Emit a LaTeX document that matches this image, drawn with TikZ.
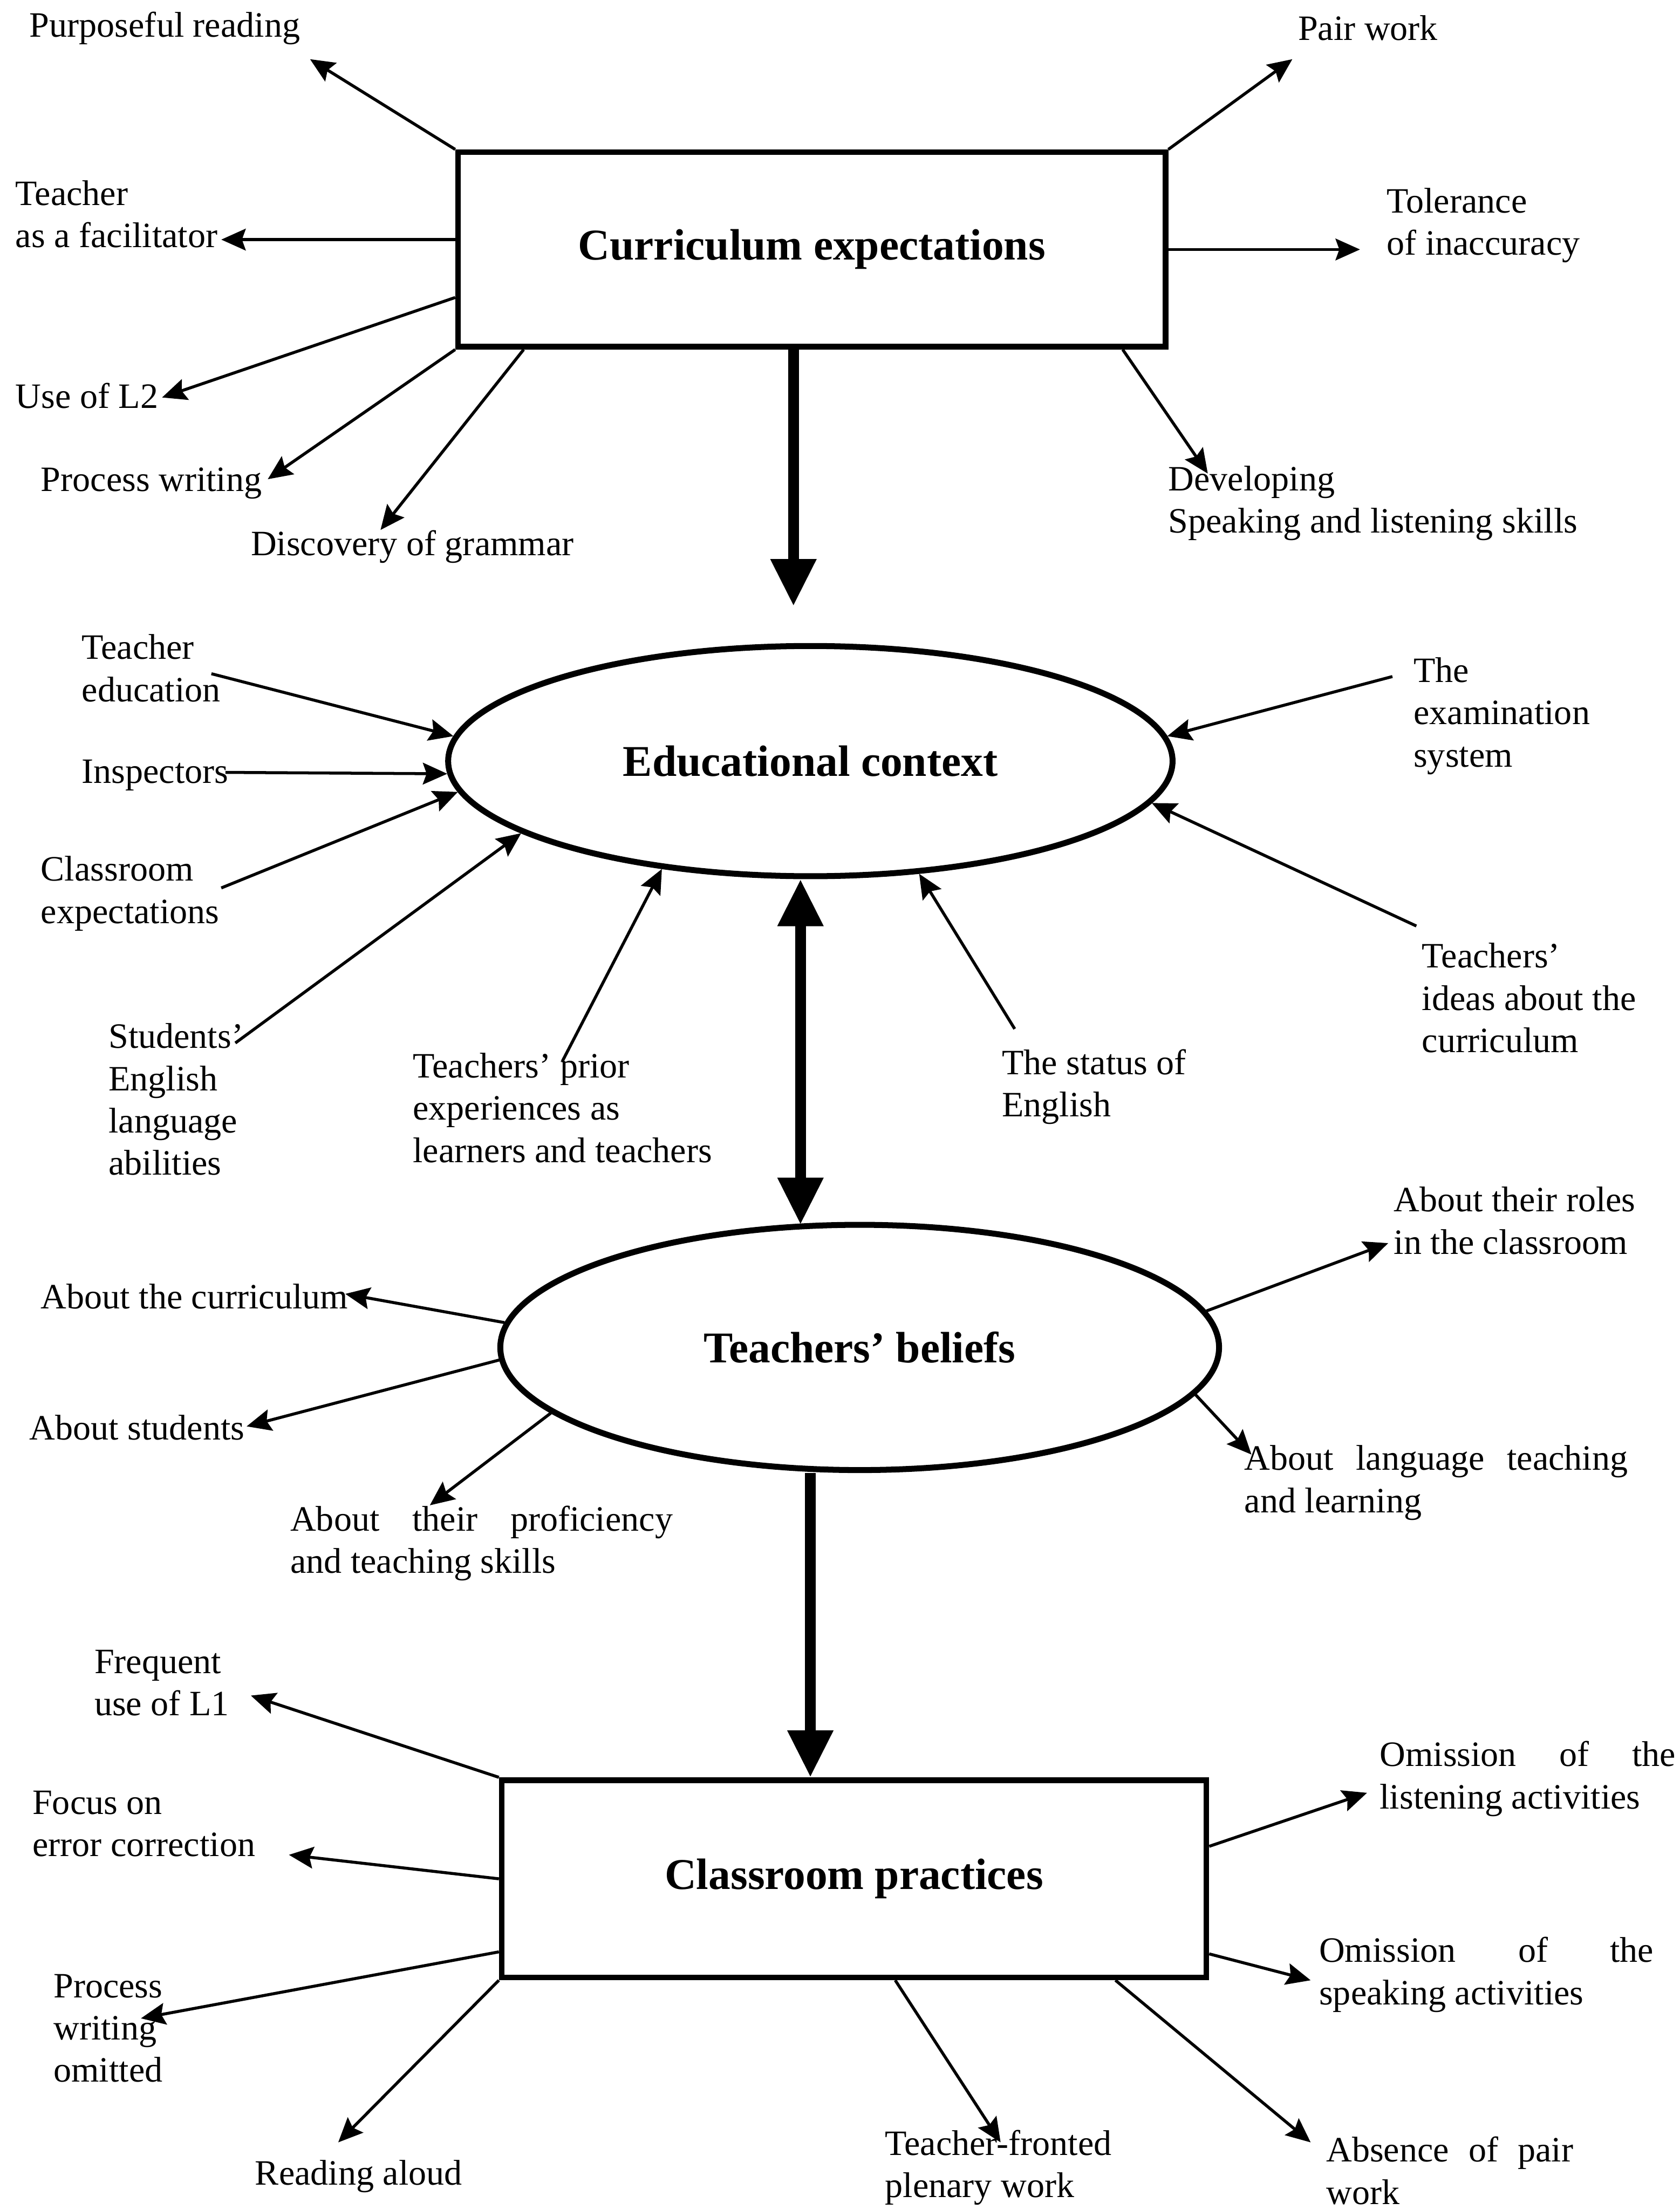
\documentclass[tikz,border=0pt]{standalone}
\usepackage{fontspec}
\setmainfont{Liberation Serif}
\usetikzlibrary{shapes.geometric,arrows.meta,calc}

\begin{document}
\begin{tikzpicture}[x=0.015cm,y=-0.015cm,->,>={Stealth[length=2.6mm,width=2.3mm,inset=0.4mm]},line width=0.9pt,
                main box/.style={rectangle,draw,line width=1.7pt,font=\fontsize{13.3}{16}\selectfont\bfseries},
                main oval/.style={ellipse,draw,line width=1.8pt,inner sep=0pt,font=\fontsize{13.3}{16}\selectfont\bfseries},
                side note/.style={anchor=west,align=left,inner sep=0pt,font=\fontsize{10.8}{12.8}\selectfont},
                wide note/.style={side note,align=justify,text width=#1},
                big arrow/.style={line width=3.2pt,-{Triangle[length=5mm,width=4.6mm]}},
                big both/.style={line width=3.2pt,{Triangle[length=5mm,width=4.6mm]}-{Triangle[length=5mm,width=4.6mm]}}]
                \useasboundingbox (0,0) rectangle (1192,1568);

                % the four main blocks
                \node[main box, minimum width=7.53cm, minimum height=2.07cm] (ce) at (576,177) {Curriculum expectations};
                \node[main oval, minimum width=7.71cm, minimum height=2.45cm] (ec) at (575,540) {Educational context};
                \node[main oval, minimum width=7.65cm, minimum height=2.61cm] (tb) at (610,956) {Teachers' beliefs};
                \node[main box, minimum width=7.5cm, minimum height=2.1cm] (cp) at (606,1333) {Classroom practices};

                % curriculum expectations
                \node[side note] (pr) at (20,20) {Purposeful reading};
                \node[side note] (tf) at (10,152) {Teacher\\as a facilitator};
                \node[side note] (l2) at (10,281) {Use of L2};
                \node[side note] (pw) at (28,343) {Process writing};
                \node[side note] (dg) at (177,388) {Discovery of grammar};
                \node[side note] (pair) at (920,20) {Pair work};
                \node[side note] (ti) at (983,160) {Tolerance\\of inaccuracy};
                \node[side note] (dev) at (828,357) {Developing\\Speaking and listening skills};
                \coordinate (pr-tip) at (220,42);
                \coordinate (tf-tip) at (157,170);
                \coordinate (l2-tip) at (115,282);
                \coordinate (pw-tip) at (190,340);
                \coordinate (dg-tip) at (270,376);
                \coordinate (pair-tip) at (917,42);
                \coordinate (ti-tip) at (965,177);
                \coordinate (dev-tip) at (857,336);

                % educational context
                \node[side note] (ted) at (57,474) {Teacher\\education};
                \node[side note] (insp) at (57,550) {Inspectors};
                \node[side note] (cex) at (28,634) {Classroom\\expectations};
                \node[side note] (sab) at (76,780) {Students'\\English\\language\\abilities};
                \node[side note] (tpe) at (292,786) {Teachers' prior\\experiences as\\learners and teachers};
                \node[side note] (soe) at (710,771) {The status of\\English};
                \node[side note] (exs) at (1002,508) {The\\examination\\system};
                \node[side note] (tic) at (1008,708) {Teachers'\\ideas about the\\curriculum};
                \coordinate (ted-tail) at (150,478);
                \coordinate (insp-tail) at (160,548);
                \coordinate (cex-tail) at (157,630);
                \coordinate (sab-tail) at (167,740);
                \coordinate (tpe-tail) at (399,753);
                \coordinate (soe-tail) at (720,730);
                \coordinate (exs-tail) at (988,480);
                \coordinate (tic-tail) at (1005,657);
                \coordinate (ec-top) at (563,430);

                % teachers' beliefs
                \node[side note] (atc) at (28,920) {About the curriculum};
                \node[side note] (ast) at (20,1013) {About students};
                \node[wide note=4.07cm] (apt) at (205,1095) {About their proficiency\linebreak and teaching skills};
                \node[side note] (arc) at (988,866) {About their roles\\in the classroom};
                \node[wide note=4.08cm] (alt) at (882,1052) {About language teaching\linebreak and learning};
                \coordinate (atc-tip) at (245,918);
                \coordinate (ast-tip) at (175,1012);
                \coordinate (apt-tip) at (305,1068);
                \coordinate (arc-tip) at (985,882);
                \coordinate (alt-tip) at (888,1032);

                % classroom practices
                \node[side note] (fl1) at (66,1194) {Frequent\\use of L1};
                \node[side note] (fec) at (22,1294) {Focus on\\error correction};
                \node[side note] (pwo) at (37,1439) {Process\\writing\\omitted};
                \node[side note] (ral) at (180,1544) {Reading aloud};
                \node[side note] (tfp) at (627,1538) {Teacher-fronted\\plenary work};
                \node[wide note=2.63cm] (apw) at (940,1540) {Absence of pair\linebreak work};
                \node[wide note=3.15cm] (ola) at (978,1262) {Omission of the\linebreak listening activities};
                \node[wide note=3.56cm] (osa) at (935,1401) {Omission of the\linebreak speaking activities};
                \coordinate (fl1-tip) at (178,1203);
                \coordinate (fec-tip) at (205,1316);
                \coordinate (pwo-tip) at (100,1432);
                \coordinate (ral-tip) at (240,1520);
                \coordinate (tfp-tip) at (710,1520);
                \coordinate (apw-tip) at (930,1520);
                \coordinate (ola-tip) at (970,1272);
                \coordinate (osa-tip) at (930,1405);

                \path
                (ce.north west) edge (pr-tip)
                ($(ce.west)+(0,-7)$) edge (tf-tip)
                ($(ce.south west)!0.26!(ce.north west)$) edge (l2-tip)
                (ce.south west) edge (pw-tip)
                ($(ce.south west)!0.096!(ce.south east)$) edge (dg-tip)
                (ce.north east) edge (pair-tip)
                (ce.east) edge (ti-tip)
                ($(ce.south west)!0.936!(ce.south east)$) edge (dev-tip)
                ($(ce.south)+(-13,0)$) edge [big arrow] (ec-top)
                ;

                \path
                (ted-tail) edge (ec.176)
                (insp-tail) edge (ec.182)
                (cex-tail) edge (ec.185)
                (sab-tail) edge (ec.194)
                (tpe-tail) edge (ec.216)
                (soe-tail) edge (ec.314)
                (exs-tail) edge (ec.4)
                (tic-tail) edge (ec.353)
                ($(ec.south)+(-7,0)$) edge [big both] ($(tb.north)+(-42,2)$)
                ;

                \path
                (tb.176) edge (atc-tip)
                (tb.182) edge (ast-tip)
                (tb.192) edge (apt-tip)
                (tb.6) edge (arc-tip)
                (tb.352) edge (alt-tip)
                ($(tb.south)+(-35,0)$) edge [big arrow] ($(cp.north)+(-31,0)$)
                ;

                \path
                (cp.north west) edge (fl1-tip)
                (cp.west) edge (fec-tip)
                ($(cp.south west)!0.14!(cp.north west)$) edge (pwo-tip)
                (cp.south west) edge (ral-tip)
                ($(cp.south west)!0.558!(cp.south east)$) edge (tfp-tip)
                ($(cp.south west)!0.868!(cp.south east)$) edge (apw-tip)
                ($(cp.north east)!0.34!(cp.south east)$) edge (ola-tip)
                ($(cp.north east)!0.87!(cp.south east)$) edge (osa-tip)
                ;
\end{tikzpicture}
\end{document}
